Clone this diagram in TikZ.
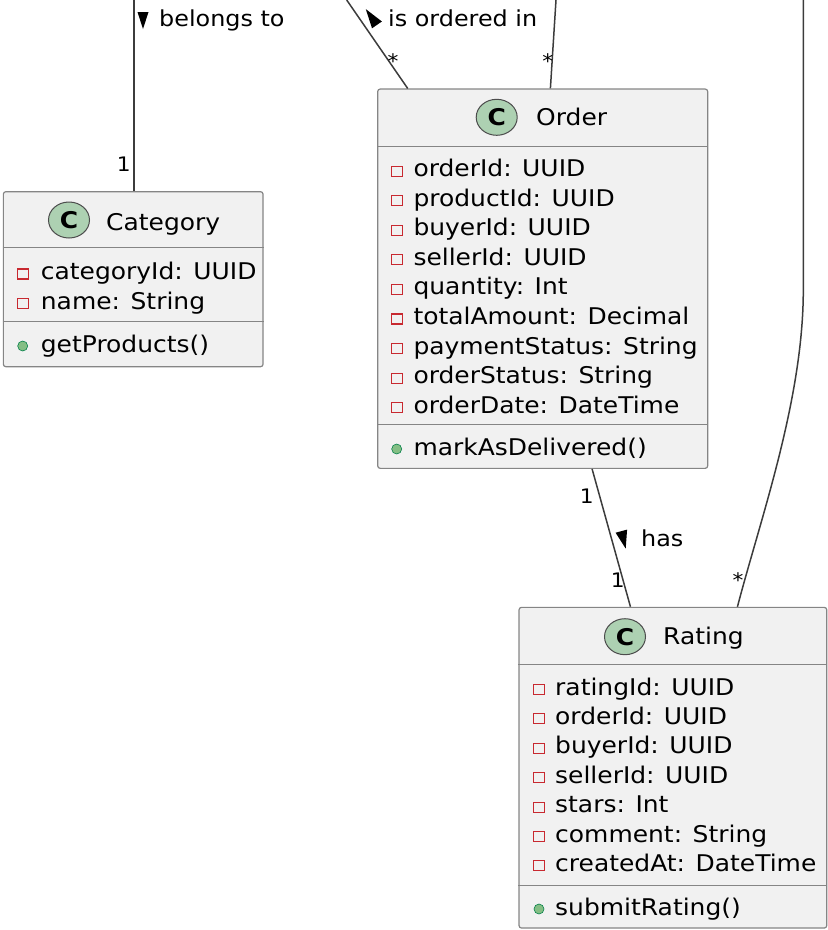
\documentclass[tikz,border=0pt]{standalone}
\usepackage{fontspec}
\setmainfont{DejaVu Sans}[FakeStretch=1.085]
\usetikzlibrary{calc,shapes.geometric}

\definecolor{boxfill}{HTML}{F1F1F1}
\definecolor{boxline}{HTML}{858585}
\definecolor{wire}{HTML}{3C3C3C}
\definecolor{badge}{HTML}{ADD1B2}
\definecolor{privred}{HTML}{C82930}
\definecolor{pubfill}{HTML}{84BE84}
\definecolor{publine}{HTML}{038048}

\tikzset{
  classbox/.style={rectangle, draw=boxline, fill=boxfill, line width=1.2pt,
    rounded corners=2.5pt, inner sep=0pt},
  divider/.style={draw=boxline, line width=1.2pt},
  badgeshape/.style={ellipse, draw=black!70, fill=badge, line width=1pt,
    minimum width=41pt, minimum height=36pt, inner sep=0pt,
    font=\fontsize{23}{23}\selectfont\bfseries},
  title/.style={anchor=base west, inner sep=0pt, font=\fontsize{23}{28}\selectfont},
  member/.style={anchor=base west, inner sep=0pt, font=\fontsize{23}{28}\selectfont},
  privicon/.style={rectangle, draw=privred, line width=1.1pt,
    minimum width=11pt, minimum height=10pt, inner sep=0pt},
  pubicon/.style={circle, draw=publine, fill=pubfill, line width=0.6pt,
    minimum size=10pt, inner sep=0pt},
  wireline/.style={draw=wire, line width=1.5pt, line join=round},
  mult/.style={inner sep=0pt, font=\fontsize{20}{20}\selectfont},
  rolelabel/.style={anchor=base west, inner sep=0pt, font=\fontsize{22}{26}\selectfont},
  marker/.style={fill=black},
}

\begin{document}
\begin{tikzpicture}[x=1pt, y=-1pt]
\useasboundingbox (0,0) rectangle (828,930);

% ---------- Category ----------
\node[classbox, minimum width=259.7pt, minimum height=175pt] (category) at (133.2,279.2) {};
\draw[divider] ([yshift=-56pt]category.north west) -- ([yshift=-56pt]category.north east);
\draw[divider] ([yshift=-130pt]category.north west) -- ([yshift=-130pt]category.north east);
\node[badgeshape] (categorybadge) at (69,220) {C};
\node[title] (categorytitle) at (106,230) {Category};
\foreach \txt [count=\k from 0] in {categoryId: UUID, name: String}{
  \node[privicon] (catpriv\k) at (22.7,{274+29.5*\k}) {};
  \node[member] (catattr\k) at (40.7,{279.5+29.5*\k}) {\txt};
}
\node[pubicon] (catpub) at (22.7,346) {};
\node[member] (catop) at (40.7,352) {getProducts()};

% ---------- Order ----------
\node[classbox, minimum width=330pt, minimum height=379.3pt] (order) at (542.7,278.7) {};
\draw[divider] ([yshift=-57.7pt]order.north west) -- ([yshift=-57.7pt]order.north east);
\draw[divider] ([yshift=-336pt]order.north west) -- ([yshift=-336pt]order.north east);
\node[badgeshape] (orderbadge) at (496.7,117.3) {C};
\node[title] (ordertitle) at (536,125.7) {Order};
\foreach \txt [count=\k from 0] in {orderId: UUID, productId: UUID, buyerId: UUID,
    sellerId: UUID, quantity: Int, totalAmount: Decimal, paymentStatus: String,
    orderStatus: String, orderDate: DateTime}{
  \node[privicon] (ordpriv\k) at (396.7,{171.2+29.55*\k}) {};
  \node[member] (ordattr\k) at (413.3,{176.7+29.55*\k}) {\txt};
}
\node[pubicon] (ordpub) at (396.7,449) {};
\node[member] (ordop) at (413.3,455) {markAsDelivered()};

% ---------- Rating ----------
\node[classbox, minimum width=307.7pt, minimum height=320.7pt] (rating) at (672.9,767.7) {};
\draw[divider] ([yshift=-57.7pt]rating.north west) -- ([yshift=-57.7pt]rating.north east);
\draw[divider] ([yshift=-278.7pt]rating.north west) -- ([yshift=-278.7pt]rating.north east);
\node[badgeshape] (ratingbadge) at (625,636.7) {C};
\node[title] (ratingtitle) at (663,644) {Rating};
\foreach \txt [count=\k from 0] in {ratingId: UUID, orderId: UUID, buyerId: UUID,
    sellerId: UUID, stars: Int, comment: String, createdAt: DateTime}{
  \node[privicon] (ratpriv\k) at (539,{689.5+29.4*\k}) {};
  \node[member] (ratattr\k) at (555,{695+29.4*\k}) {\txt};
}
\node[pubicon] (ratpub) at (539,909) {};
\node[member] (ratop) at (555,915) {submitRating()};

% ---------- associations ----------
% Product -- Category
\coordinate (belongsTop) at (134,0);
\draw[wireline] (belongsTop) -- (belongsTop |- category.north);
\fill[marker] (137.5,12) -- (148.5,12) -- (143,29) -- cycle;
\node[rolelabel] (belongslabel) at (159,26.7) {belongs to};
\node[mult, anchor=base east] (belongsone) at (131,171.7) {1};

% Product -- Order
\coordinate (orderedTop) at (346.7,0);
\draw[wireline] (orderedTop) -- ([xshift=30.6pt]order.north west);
\fill[marker] (365.8,9.1) -- (381.9,21.5) -- (372.0,28.3) -- cycle;
\node[rolelabel] (orderedlabel) at (388,26.7) {is ordered in};
\node[mult, anchor=base] (orderedmany) at (393,68) {*};

% second link into Order
\coordinate (orderTopB) at (556,0);
\draw[wireline] (orderTopB) -- ([xshift=173.3pt]order.north west);
\node[mult, anchor=base] (ordermanyB) at (547.7,68) {*};

% link into Rating from above
\coordinate (ratingTop) at (803.3,0);
\coordinate (ratingBend) at (803.3,290);
\draw[wireline] (ratingTop) -- (ratingBend)
  .. controls (803.3,400) and (760,520) .. ([xshift=219pt]rating.north west);
\node[mult, anchor=base] (ratingmany) at (738,587) {*};

% Order -- Rating
\draw[wireline] ([xshift=215pt]order.south west) -- ([xshift=112pt]rating.north west);
\fill[marker] (625.7,548.6) -- (627.1,529.6) -- (615.6,532.7) -- cycle;
\node[rolelabel] (haslabel) at (641,546) {has};
\node[mult, anchor=base east] (hasone) at (594,503) {1};
\node[mult, anchor=base east] (hasonebelow) at (625,587) {1};
\end{tikzpicture}
\end{document}
